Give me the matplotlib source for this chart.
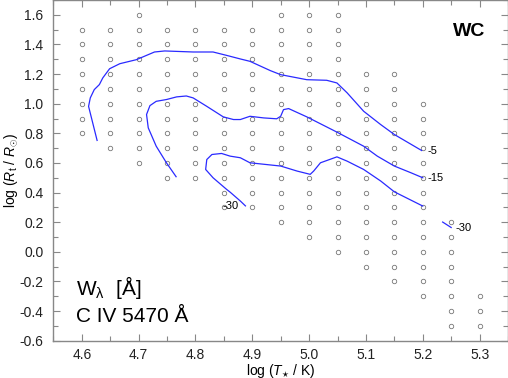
import matplotlib

matplotlib.use("Agg")
import matplotlib.pyplot as plt  # noqa: E402
from matplotlib.ticker import MultipleLocator  # noqa: E402

plt.rcParams["font.family"] = ["Liberation Sans", "DejaVu Sans"]
plt.rcParams["mathtext.fontset"] = "custom"
plt.rcParams["mathtext.rm"] = "Liberation Sans"
plt.rcParams["mathtext.it"] = "Liberation Sans:italic"

# Model grid: one column of log R_t values per log T_* value
grid_logt = [4.60, 4.65, 4.70, 4.75, 4.80, 4.85, 4.90, 4.95,
             5.00, 5.05, 5.10, 5.15, 5.20, 5.25, 5.30]
grid_logr = [
    [1.5, 1.4, 1.3, 1.2, 1.1, 1.0, 0.9, 0.8],
    [1.5, 1.4, 1.3, 1.2, 1.1, 1.0, 0.9, 0.8, 0.7],
    [1.6, 1.5, 1.4, 1.3, 1.2, 1.1, 1.0, 0.9, 0.8, 0.7, 0.6],
    [1.5, 1.4, 1.3, 1.2, 1.1, 1.0, 0.9, 0.8, 0.7, 0.6, 0.5],
    [1.5, 1.4, 1.3, 1.2, 1.1, 1.0, 0.9, 0.8, 0.7, 0.6, 0.5],
    [1.5, 1.4, 1.3, 1.2, 1.1, 1.0, 0.9, 0.8, 0.7, 0.6, 0.5, 0.4, 0.3],
    [1.5, 1.4, 1.3, 1.2, 1.1, 1.0, 0.9, 0.8, 0.7, 0.6, 0.5, 0.4, 0.3],
    [1.6, 1.5, 1.4, 1.3, 1.2, 1.1, 1.0, 0.9, 0.8, 0.7, 0.6, 0.5, 0.4, 0.3, 0.2],
    [1.6, 1.5, 1.4, 1.3, 1.2, 1.1, 1.0, 0.9, 0.8, 0.7, 0.6, 0.5, 0.4, 0.3, 0.2, 0.1],
    [1.6, 1.5, 1.4, 1.3, 1.2, 1.1, 1.0, 0.9, 0.8, 0.7, 0.6, 0.5, 0.4, 0.3, 0.2, 0.1, 0.0],
    [1.2, 1.1, 1.0, 0.9, 0.8, 0.7, 0.6, 0.5, 0.4, 0.3, 0.2, 0.1, 0.0, -0.1],
    [1.2, 1.1, 1.0, 0.9, 0.8, 0.7, 0.6, 0.5, 0.4, 0.3, 0.2, 0.1, 0.0, -0.1, -0.2],
    [1.0, 0.9, 0.8, 0.7, 0.6, 0.5, 0.4, 0.3, 0.2, 0.1, 0.0, -0.1, -0.2, -0.3],
    [0.2, 0.1, 0.0, -0.1, -0.2, -0.3, -0.4, -0.5],
    [-0.3, -0.4, -0.5],
]

# Contours of equivalent width
c5_x = [4.627, 4.612, 4.615, 4.622, 4.631, 4.637, 4.649, 4.667, 4.696, 4.728,
        4.746, 4.796, 4.831, 4.855, 4.879, 4.896, 4.932, 4.950, 4.996, 5.031,
        5.049, 5.067, 5.096, 5.126, 5.150, 5.198]
c5_y = [0.752, 0.982, 1.039, 1.095, 1.129, 1.174, 1.236, 1.270, 1.297, 1.349,
        1.356, 1.349, 1.349, 1.326, 1.302, 1.286, 1.223, 1.196, 1.162, 1.158,
        1.140, 1.073, 0.949, 0.859, 0.792, 0.684]

c15_x = [4.766, 4.749, 4.731, 4.717, 4.714, 4.720, 4.731, 4.749, 4.767, 4.784,
         4.796, 4.820, 4.849, 4.867, 4.879, 4.896, 4.920, 4.943, 4.950, 4.955,
         4.964, 4.996, 5.049, 5.096, 5.120, 5.150, 5.179, 5.200]
c15_y = [0.507, 0.601, 0.713, 0.837, 0.927, 0.987, 1.016, 1.028, 1.046, 1.052,
         1.039, 0.982, 0.911, 0.893, 0.893, 0.915, 0.904, 0.898, 0.915, 0.960,
         0.967, 0.911, 0.808, 0.713, 0.646, 0.579, 0.534, 0.500]

c30_x = [4.888, 4.879, 4.861, 4.855, 4.831, 4.818, 4.820, 4.829, 4.846, 4.861,
         4.879, 4.896, 4.950, 4.979, 5.002, 5.008, 5.020, 5.049, 5.067, 5.096,
         5.126, 5.150, 5.200]
c30_y = [0.310, 0.343, 0.403, 0.421, 0.500, 0.556, 0.623, 0.657, 0.664, 0.646,
         0.635, 0.601, 0.579, 0.545, 0.523, 0.545, 0.601, 0.641, 0.612, 0.556,
         0.478, 0.405, 0.309]

c30b_x = [5.235, 5.250]
c30b_y = [0.201, 0.164]

# contour labels: (x, y, text)
contour_labels = [
    (5.209, 0.681, "-5"),
    (5.209, 0.497, "-15"),
    (5.258, 0.164, "-30"),
    (4.847, 0.307, "-30"),
]

fig = plt.figure(figsize=(5.08, 3.78), dpi=100)
ax = fig.add_axes([0.105, 0.0987, 0.895, 0.9013])

for t, rs in zip(grid_logt, grid_logr):
    ax.plot([t] * len(rs), rs, "o", ms=3.2, mfc="none", mec="#777777", mew=0.6,
            linestyle="none")

line_col = "#2a2aff"
for xs, ys in [(c5_x, c5_y), (c15_x, c15_y), (c30_x, c30_y), (c30b_x, c30b_y)]:
    ax.plot(xs, ys, color=line_col, linewidth=0.9)

for x, y, txt in contour_labels:
    ax.text(x, y, txt, fontsize=8, ha="left", va="center", color="black")

ax.text(5.253, 1.454, "WC", fontsize=14, fontweight="bold", ha="left",
        va="baseline")
ax.text(4.590, -0.292, "W$_{\\rm λ}$  [Å]", fontsize=15, ha="left",
        va="baseline")
ax.text(4.590, -0.472, "C IV 5470 Å", fontsize=15, ha="left", va="baseline")

ax.set_xlim(4.55, 5.35)
ax.set_ylim(-0.6, 1.7)
ax.xaxis.set_major_locator(MultipleLocator(0.1))
ax.xaxis.set_minor_locator(MultipleLocator(0.05))
ax.yaxis.set_major_locator(MultipleLocator(0.2))
ax.yaxis.set_minor_locator(MultipleLocator(0.1))
ax.xaxis.set_major_formatter(lambda v, p: f"{v:.1f}")
ax.yaxis.set_major_formatter(lambda v, p: f"{v:.1f}")

ax.tick_params(which="both", direction="in", top=True, right=True,
               color="#888888", width=0.8, labelsize=10, labelcolor="#222222")
ax.tick_params(which="major", length=4.8)
ax.tick_params(which="minor", length=3.6)
ax.tick_params(axis="x", which="major", pad=5)
ax.tick_params(axis="y", which="major", pad=7)
for sp in ax.spines.values():
    sp.set_color("#888888")
    sp.set_linewidth(1.0)

ax.set_xlabel("log ($T_{\\star}$ / K)", fontsize=10, labelpad=0)
ax.set_ylabel("log ($R_{\\rm t}$ / $R_{\\odot}$)", fontsize=10, labelpad=0)

fig.savefig("out.png", dpi=100)
